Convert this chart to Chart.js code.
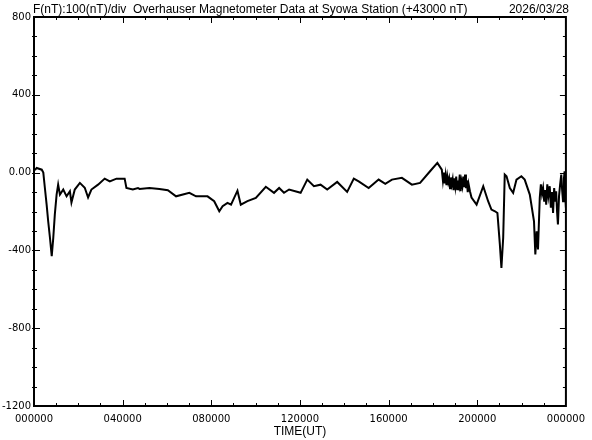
<!DOCTYPE html>
<html>
<head>
<meta charset="utf-8">
<script src="https://cdn.jsdelivr.net/npm/chart.js@4"></script>
<style>
  html, body { margin: 0; padding: 0; background: #fff; }
  #wrap { width: 592px; height: 440px; position: relative; }
</style>
</head>
<body>
<div id="wrap"><canvas id="magChart"></canvas></div>
<script>
var titleText = 'F(nT):100(nT)/div  Overhauser Magnetometer Data at Syowa Station (+43000 nT)';
var dateText = '2026/03/28';
var axisTitle = 'TIME(UT)';

// time of day in hours (UT)
var hours = [0.04, 0.12, 0.35, 0.42, 0.49, 0.57, 0.64, 0.72, 0.80, 0.87, 0.94, 1.02, 1.09, 1.17, 1.32, 1.47, 1.62, 1.69, 1.84, 2.07,
  2.29, 2.44, 2.59, 2.89, 3.19, 3.42, 3.72, 4.09, 4.17, 4.46, 4.69, 4.76, 5.21, 5.66, 6.04, 6.41, 7.01, 7.31, 7.83, 8.13,
  8.36, 8.51, 8.73, 8.89, 9.18, 9.33, 9.63, 10.01, 10.46, 10.83, 11.06, 11.28, 11.51, 12.03, 12.33, 12.63, 12.93, 13.23, 13.68, 14.13,
  14.43, 14.65, 15.10, 15.55, 15.85, 16.15, 16.60, 17.05, 17.42, 17.87, 18.20,
  18.40, 18.45, 18.49, 18.53, 18.57, 18.61, 18.65, 18.69, 18.73, 18.77, 18.81, 18.85, 18.89, 18.93, 18.97, 19.01, 19.05, 19.09, 19.13, 19.17,
  19.21, 19.25, 19.29, 19.33, 19.37, 19.41, 19.45, 19.49, 19.53, 19.57, 19.61, 19.67, 19.74,
  19.97, 20.27, 20.49, 20.64, 20.80, 20.91, 21.02, 21.09, 21.17, 21.24, 21.32, 21.47, 21.62, 21.77, 21.99,
  22.14, 22.37, 22.56, 22.62, 22.68, 22.74, 22.82, 22.87, 22.92, 22.97, 23.02, 23.07, 23.11, 23.16, 23.21, 23.27, 23.32, 23.37, 23.42, 23.47,
  23.52, 23.56, 23.60, 23.64, 23.69, 23.74, 23.79, 23.83, 23.87, 23.91, 23.94, 23.97, 24.00];

// F minus 43000 nT
var fValues = [13, 24, 15, 0, -78, -165, -250, -335, -430, -335, -215, -113, -62, -113, -87, -122, -96, -154, -87, -53,
  -78, -128, -87, -62, -31, -45, -31, -31, -79, -87, -79, -84, -79, -84, -91, -122, -104, -122, -122, -147,
  -199, -173, -156, -165, -93, -165, -147, -130, -73, -104, -79, -104, -87, -104, -36, -70, -62, -87, -48, -99,
  -31, -45, -79, -36, -58, -36, -27, -62, -53, 7, 50,
  15, -40, 0, -55, -15, -65, -20, -50, -30, -80, -25, -60, -35, -90, -30, -70, -20, -85, -40, -65,
  -10, -95, -45, -70, -20, -75, -10, -80, -40, -100, -60, -96, -128,
  -165, -70, -147, -190, -199, -208, -370, -490, -335, -10, -19, -79, -104, -36, -19,
  -36, -113, -250, -421, -302, -395, -130, -60, -110, -79, -150, -90, -165, -60, -120, -70, -180, -100, -208, -80,
  -150, -96, -200, -267, -120, -60, -10, -90, -147, -30, 7, -120, -180];

var points = hours.map(function (h, i) { return { x: h, y: fValues[i] }; });

var fontFamily = '"DejaVu Sans", sans-serif';

// frame with inward tick marks, plus header texts
var framePlugin = {
  id: 'frame',
  afterDraw: function (chart) {
    var ctx = chart.ctx;
    var a = chart.chartArea;
    var xs = chart.scales.x;
    var ys = chart.scales.y;
    ctx.save();
    ctx.strokeStyle = '#000';
    ctx.lineWidth = 2;
    ctx.strokeRect(a.left, a.top, a.right - a.left, a.bottom - a.top);
    ctx.lineWidth = 1;
    ctx.beginPath();
    for (var h = 1; h < 24; h++) {
      var px = Math.round(xs.getPixelForValue(h)) + 0.5;
      var len = h % 4 === 0 ? 6 : 3;
      ctx.moveTo(px, a.bottom); ctx.lineTo(px, a.bottom - len);
      ctx.moveTo(px, a.top); ctx.lineTo(px, a.top + len);
    }
    for (var v = -1100; v < 800; v += 100) {
      var py = Math.round(ys.getPixelForValue(v)) + 0.5;
      var l2 = v % 400 === 0 ? 6 : 3;
      ctx.moveTo(a.left - 2, py); ctx.lineTo(a.left + l2, py);
      ctx.moveTo(a.right, py); ctx.lineTo(a.right - l2, py);
    }
    ctx.stroke();
    ctx.fillStyle = '#000';
    ctx.font = '12px "Liberation Sans", sans-serif';
    ctx.textBaseline = 'alphabetic';
    ctx.textAlign = 'left';
    ctx.fillText(titleText, 33, 13);
    ctx.textAlign = 'right';
    ctx.fillText(dateText, 569, 13);
    ctx.restore();
  }
};

new Chart(document.getElementById('magChart'), {
  type: 'line',
  data: {
    datasets: [{
      data: points,
      borderColor: '#000',
      borderWidth: 2,
      pointRadius: 0,
      tension: 0,
      fill: false
    }]
  },
  options: {
    responsive: true,
    maintainAspectRatio: false,
    animation: false,
    layout: { padding: { top: 17, right: 24, bottom: 0, left: 0 } },
    plugins: { legend: { display: false }, tooltip: { enabled: false } },
    scales: {
      x: {
        type: 'linear',
        min: 0,
        max: 24,
        afterFit: function (s) { s.height = 34; },
        grid: { display: false, drawTicks: false },
        border: { display: false },
        ticks: {
          stepSize: 4,
          padding: 7,
          maxRotation: 0,
          color: '#000',
          font: { family: fontFamily, size: 10 },
          callback: function (v) { return String(v % 24).padStart(2, '0') + '0000'; }
        },
        title: {
          display: true,
          text: axisTitle,
          color: '#000',
          padding: { top: 0, bottom: 1 },
          font: { family: '"Liberation Sans", sans-serif', size: 12 }
        }
      },
      y: {
        min: -1200,
        max: 800,
        afterFit: function (s) { s.width = 34; },
        grid: { display: false, drawTicks: false },
        border: { display: false },
        ticks: {
          stepSize: 400,
          padding: 3,
          color: '#000',
          font: { family: fontFamily, size: 10 },
          callback: function (v) { return v === 0 ? '0.00' : String(v); }
        }
      }
    }
  },
  plugins: [framePlugin]
});
</script>
</body>
</html>
